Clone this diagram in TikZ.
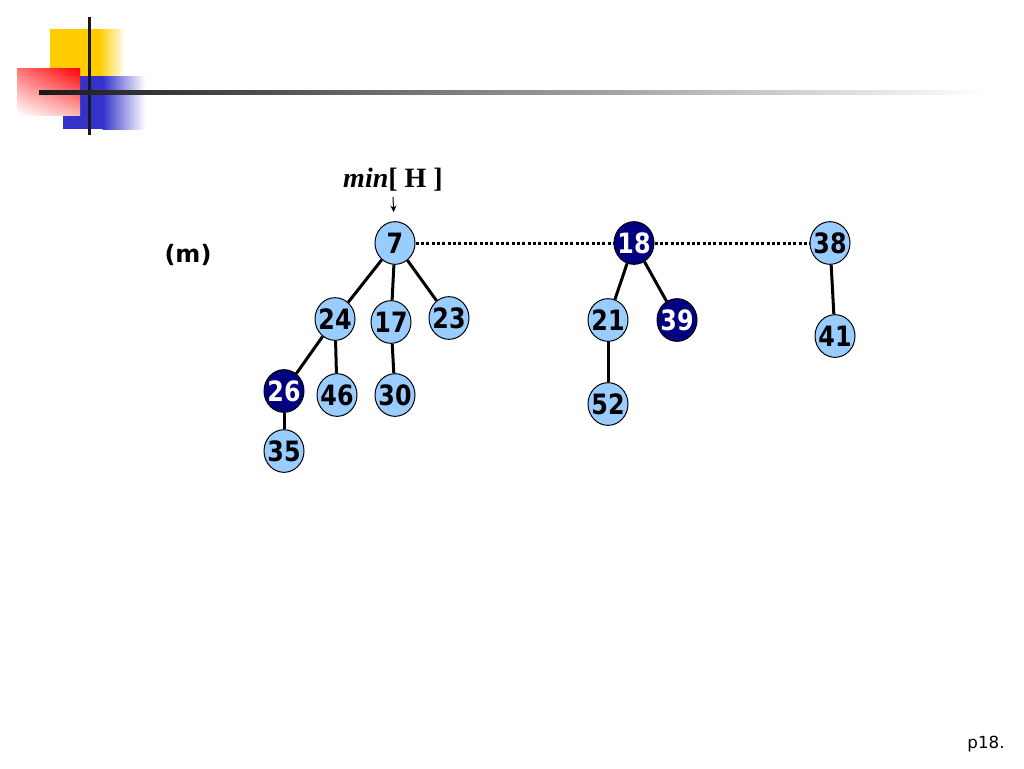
\documentclass[tikz,border=0pt]{standalone}
\usepackage{fontspec}
\setmainfont{DejaVu Sans}
\newfontfamily\numfont{DejaVu Sans}[FakeStretch=0.85]
\newfontfamily\timesfont{Liberation Serif}
\usetikzlibrary{arrows.meta}
\usetikzlibrary{shapes.geometric}
\usetikzlibrary{shadings}
\definecolor{keylight}{RGB}{153,204,255}
\definecolor{keydark}{RGB}{0,0,128}
\definecolor{logoyellow}{RGB}{255,204,0}
\definecolor{logoblue}{RGB}{51,51,204}
\definecolor{logored}{RGB}{255,0,0}

\begin{document}
\begin{tikzpicture}[x=0.75pt, y=-0.75pt,
    key/.style={ellipse, draw=black, line width=0.75pt, fill=keylight,
      minimum width=30pt, minimum height=32pt, inner sep=-7pt,
      font=\numfont\bfseries\fontsize{21}{21}\selectfont},
    marked/.style={key, fill=keydark, text=white},
    tree/.style={line width=2.25pt},
    rootlist/.style={line width=2.25pt, dash pattern=on 2.25pt off 1.75pt}]
    \useasboundingbox (0,0) rectangle (1024,768);

    % Logo
    \fill[logoyellow] (50,29) rectangle (100,76);
    \shade[left color=logoyellow, right color=white] (99.5,29) rectangle (125,76);
    \fill[logoblue] (63,76) rectangle (103,129);
    \shade[left color=logoblue, right color=white] (102.5,76) rectangle (145,129);
    \shade[upper right=logored, upper left=logored!55, lower right=logored!30,
      lower left=white] (17,68) rectangle (80,115);
    \fill[black!90] (87.5,17) rectangle (90.5,135);
    \shade[left color=black!90, right color=white] (39,90) rectangle (985,94);

    % Wurzelliste
    \node[key] (n7) at (395,243) {7};
    \node[marked] (n18) at (634,243) {18};
    \node[key] (n38) at (830,243) {38};
    \draw[rootlist] (n7) -- (n18);
    \draw[rootlist] (n18) -- (n38);

    % Baum unter 7
    \node[key] (n24) at (335,319) {24};
    \node[key] (n17) at (391,322) {17};
    \node[key] (n23) at (449,318) {23};
    \node[marked] (n26) at (284,391) {26};
    \node[key] (n46) at (337,395) {46};
    \node[key] (n30) at (395,395) {30};
    \node[key] (n35) at (284,451) {35};
    \draw[tree] (n7) -- (n24);
    \draw[tree] (n7) -- (n17);
    \draw[tree] (n7) -- (n23);
    \draw[tree] (n24) -- (n26);
    \draw[tree] (n24) -- (n46);
    \draw[tree] (n17) -- (n30);
    \draw[tree] (n26) -- (n35);

    % Baum unter 18
    \node[key] (n21) at (608,320) {21};
    \node[marked] (n39) at (677,320) {39};
    \node[key] (n52) at (608,404) {52};
    \draw[tree] (n18) -- (n21);
    \draw[tree] (n18) -- (n39);
    \draw[tree] (n21) -- (n52);

    % Baum unter 38
    \node[key] (n41) at (835,336) {41};
    \draw[tree] (n38) -- (n41);

    % Zeiger min[H]
    \node (minH) at (393,180) {\timesfont\bfseries\fontsize{21}{21}\selectfont\itshape min\upshape[ H ]};
    \coordinate (minptr) at (393,197);
    \draw[-{Stealth[length=5pt,width=4.5pt]}, line width=0.75pt, shorten >=6.75pt] (minptr) -- (n7);

    % Beschriftungen
    \node (mlabel) at (188,255) {\bfseries\fontsize{18}{18}\selectfont (m)};
    \node (page) at (986,744) {\fontsize{12.5}{12.5}\selectfont p18.};
\end{tikzpicture}
\end{document}
